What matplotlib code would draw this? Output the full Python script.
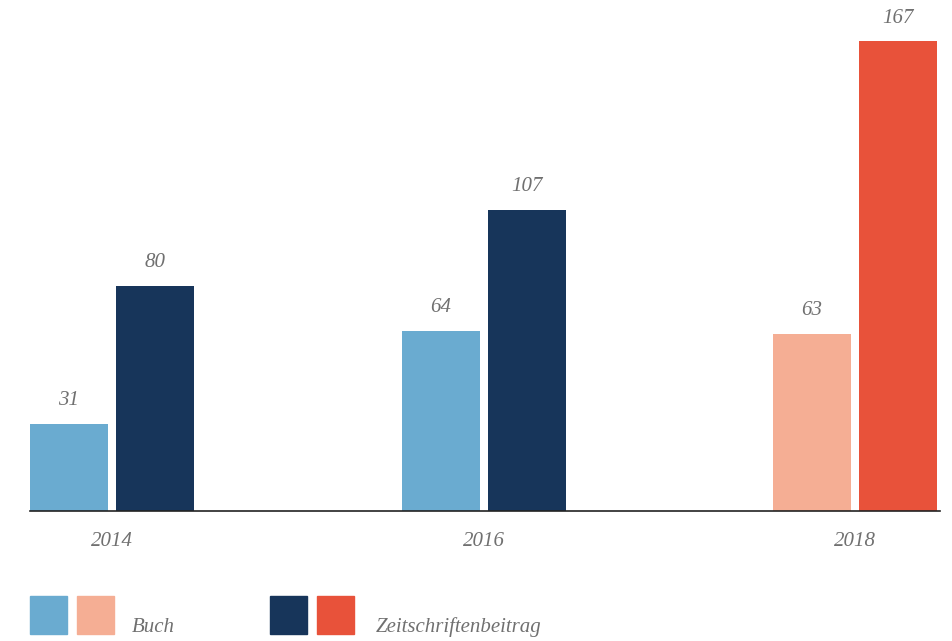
import matplotlib.pyplot as plt
from matplotlib.patches import Rectangle

years = ["2014", "2016", "2018"]
buch = [31, 64, 63]
zeitschrift = [80, 107, 167]
buch_colors = ["#6aabd0", "#6aabd0", "#f5ae94"]
zeit_colors = ["#17355a", "#17355a", "#e8523a"]

W, H = 952, 641
fig = plt.figure(figsize=(W / 100, H / 100), dpi=100)
ax = fig.add_axes([30 / W, 130 / H, 910 / W, 511 / H])

px = 371.5  # pixels per group
bw = 78 / px
off = 43 / px
x = range(len(years))

ax.bar([i - off for i in x], buch, width=bw, color=buch_colors)
ax.bar([i + off for i in x], zeitschrift, width=bw, color=zeit_colors)

ax.set_xlim(-82 / px, 828 / px)
ax.set_ylim(0, 511 / 2.814)

txt = dict(fontsize=15, style="italic", family="Liberation Serif", color="#707070")
for i in x:
    ax.text(i - off, buch[i] + 23 / 2.814, str(buch[i]), ha="center", va="center", **txt)
    ax.text(i + off, zeitschrift[i] + 23 / 2.814, str(zeitschrift[i]), ha="center", va="center", **txt)

for s in ["top", "right", "left"]:
    ax.spines[s].set_visible(False)
ax.spines["bottom"].set_color("#222222")
ax.spines["bottom"].set_linewidth(1.2)
ax.set_yticks([])
ax.set_xticks(list(x))
ax.set_xticklabels(years, **txt)
ax.tick_params(axis="x", length=0, pad=15)

# legend
def swatch(x0, color):
    fig.patches.append(Rectangle((x0 / W, (H - 634) / H), 37 / W, 38 / H,
                                 transform=fig.transFigure, color=color))

swatch(30, "#6aabd0")
swatch(77, "#f5ae94")
swatch(270, "#17355a")
swatch(317, "#e8523a")
fig.text(132 / W, (H - 627) / H, "Buch", ha="left", va="center", **txt)
fig.text(376 / W, (H - 627) / H, "Zeitschriftenbeitrag", ha="left", va="center", **txt)

fig.savefig("out.png", dpi=100)
